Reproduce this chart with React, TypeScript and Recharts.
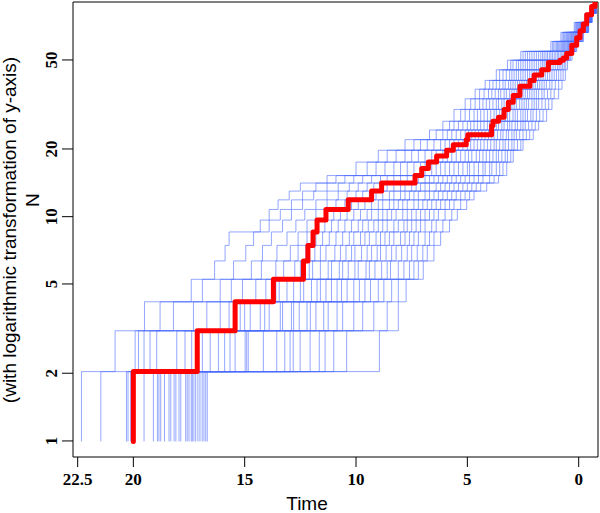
import { LineChart, Line, XAxis, YAxis, ReferenceArea } from "recharts";

// lineage counts at which every simulated tree's reach time is listed below
const lineageLevels = [
  2, 3, 4, 5, 6, 7, 8, 9, 10, 11, 12, 13, 14, 16, 18, 20, 22, 24, 27, 30, 33,
  36, 40, 44, 48, 53, 58, 64, 70, 78,
];

// one row per level, one column per simulated tree (30 trees)
const simReachTimes: number[][] = [
  [21.46, 22.33, 20.31, 20.24, 20.12, 19.52, 18.85, 18.92, 19.1, 18.77, 18.6, 18.4, 17.95, 18.17, 18.09, 18.32, 17.87, 17.65, 17.58, 17.5, 17.1, 17.35, 17.28, 17.2, 17.4, 17.01, 16.68, 16.83, 16.75, 16.91],
  [20.82, 19.92, 19.77, 19.52, 19.25, 18.95, 18.05, 17.68, 17.38, 15.43, 16.55, 16.18, 15.9, 15.66, 16.9, 14.98, 14.91, 14.84, 14.16, 13.56, 13.2, 11.65, 12.82, 12.51, 12.06, 12.96, 11.39, 11.0, 10.42, 8.95],
  [19.5, 18.8, 18.2, 17.3, 16.7, 16.1, 15.7, 15.2, 15.0, 14.75, 14.3, 14.1, 13.9, 13.4, 13.3, 12.9, 12.8, 12.55, 12.2, 12.05, 11.8, 11.45, 11.25, 10.85, 10.6, 10.1, 9.7, 9.2, 8.6, 8.1],
  [17.4, 16.9, 16.1, 15.6, 15.1, 14.5, 14.05, 13.6, 13.45, 13.1, 12.0, 12.5, 12.35, 12.8, 11.75, 11.6, 11.35, 10.1, 10.85, 10.65, 10.4, 11.1, 9.85, 9.6, 9.35, 9.0, 8.75, 8.4, 8.1, 7.75],
  [16.35, 15.5, 14.7, 14.25, 13.6, 13.25, 12.75, 12.5, 12.1, 11.95, 11.6, 11.25, 11.1, 10.75, 10.6, 10.35, 10.05, 9.9, 9.55, 9.4, 9.15, 8.85, 8.6, 8.45, 8.1, 7.85, 7.6, 7.4, 7.2, 6.98],
  [15.88, 14.95, 14.2, 13.55, 12.95, 12.6, 12.25, 11.85, 11.6, 11.35, 10.95, 10.7, 10.45, 10.2, 10.05, 9.75, 9.5, 9.3, 9.05, 8.9, 8.65, 8.4, 8.2, 7.95, 7.7, 7.5, 7.25, 7.0, 6.8, 6.5],
  [15.7, 14.6, 13.8, 13.1, 12.6, 12.2, 11.8, 11.5, 11.2, 10.9, 10.6, 10.3, 10.1, 9.8, 9.6, 9.4, 9.1, 8.9, 8.7, 8.5, 8.3, 8.0, 7.8, 7.6, 7.4, 7.2, 6.9, 6.7, 6.5, 6.2],
  [14.3, 13.9, 13.3, 12.7, 12.2, 11.8, 11.4, 11.1, 10.8, 10.5, 10.2, 9.9, 9.7, 9.45, 9.2, 9.0, 8.8, 8.6, 8.3, 8.1, 7.85, 7.7, 7.5, 7.3, 7.1, 6.9, 6.6, 6.4, 6.1, 5.8],
  [13.9, 13.4, 12.9, 12.3, 11.8, 11.4, 11.0, 10.7, 10.4, 10.1, 9.8, 9.5, 9.3, 9.0, 8.8, 8.6, 8.4, 8.2, 7.9, 7.7, 7.5, 7.3, 7.1, 6.9, 6.7, 6.5, 6.3, 6.0, 5.7, 5.45],
  [13.5, 12.9, 12.4, 11.8, 11.3, 10.9, 10.5, 10.2, 9.9, 9.6, 9.3, 9.0, 8.8, 8.5, 8.3, 8.1, 7.9, 7.7, 7.4, 7.2, 7.0, 6.8, 6.6, 6.4, 6.2, 6.0, 5.8, 5.6, 5.3, 5.03],
  [13.0, 12.4, 11.9, 11.3, 10.8, 10.4, 10.0, 9.7, 9.4, 9.1, 8.8, 8.5, 8.3, 8.0, 7.8, 7.6, 7.4, 7.2, 6.9, 6.7, 6.5, 6.3, 6.1, 5.9, 5.7, 5.5, 5.3, 5.1, 4.9, 4.7],
  [12.5, 11.8, 11.3, 10.8, 10.3, 9.9, 9.5, 9.2, 8.9, 8.6, 8.3, 8.0, 7.8, 7.5, 7.3, 7.1, 6.9, 6.7, 6.4, 6.2, 6.0, 5.8, 5.6, 5.4, 5.2, 5.0, 4.8, 4.6, 4.4, 4.13],
  [11.3, 10.9, 10.5, 10.1, 9.7, 9.3, 8.9, 8.6, 8.3, 8.0, 7.7, 7.4, 7.2, 6.9, 6.7, 6.5, 6.3, 6.1, 5.9, 5.7, 5.5, 5.3, 5.1, 4.9, 4.7, 4.5, 4.3, 4.0, 3.8, 3.6],
  [10.0, 9.5, 9.1, 8.7, 8.3, 8.0, 7.7, 7.4, 7.1, 6.9, 6.6, 6.4, 6.2, 6.0, 5.8, 5.6, 5.4, 5.2, 5.0, 4.9, 4.7, 4.5, 4.3, 4.2, 4.0, 3.9, 3.7, 3.55, 3.4, 3.23],
  [9.0, 8.6, 8.2, 7.8, 7.5, 7.2, 6.9, 6.6, 6.4, 6.1, 5.9, 5.7, 5.5, 5.3, 5.1, 4.95, 4.8, 4.6, 4.45, 4.3, 4.15, 4.0, 3.85, 3.7, 3.6, 3.45, 3.3, 3.2, 3.05, 2.94],
  [7.8, 7.4, 7.1, 6.8, 6.5, 6.2, 6.0, 5.8, 5.6, 5.4, 5.2, 5.0, 4.85, 4.7, 4.55, 4.4, 4.25, 4.1, 3.95, 3.8, 3.7, 3.55, 3.4, 3.3, 3.15, 3.0, 2.9, 2.75, 2.6, 2.5],
  [6.7, 6.4, 6.1, 5.9, 5.7, 5.5, 5.3, 5.1, 4.95, 4.8, 4.65, 4.5, 4.35, 4.2, 4.05, 3.9, 3.8, 3.65, 3.5, 3.4, 3.25, 3.15, 3.0, 2.9, 2.8, 2.65, 2.5, 2.35, 2.2, 2.04],
  [6.1, 5.8, 5.6, 5.4, 5.2, 5.0, 4.85, 4.7, 4.55, 4.4, 4.25, 4.1, 4.0, 3.85, 3.7, 3.6, 3.45, 3.35, 3.2, 3.1, 3.0, 2.85, 2.75, 2.6, 2.5, 2.4, 2.25, 2.1, 1.95, 1.8],
  [5.6, 5.3, 5.1, 4.9, 4.7, 4.55, 4.4, 4.25, 4.1, 3.95, 3.8, 3.7, 3.55, 3.45, 3.3, 3.2, 3.1, 2.95, 2.85, 2.75, 2.6, 2.5, 2.4, 2.3, 2.15, 2.05, 1.9, 1.75, 1.6, 1.44],
  [5.1, 4.85, 4.65, 4.45, 4.3, 4.15, 4.0, 3.85, 3.7, 3.6, 3.45, 3.35, 3.2, 3.1, 3.0, 2.9, 2.8, 2.65, 2.55, 2.45, 2.35, 2.25, 2.1, 2.0, 1.9, 1.8, 1.65, 1.5, 1.35, 1.2],
  [4.65, 4.45, 4.25, 4.05, 3.9, 3.75, 3.6, 3.5, 3.35, 3.25, 3.1, 3.0, 2.9, 2.8, 2.7, 2.6, 2.5, 2.4, 2.3, 2.2, 2.1, 2.0, 1.9, 1.8, 1.65, 1.55, 1.4, 1.25, 1.1, 0.9],
  [4.2, 4.0, 3.85, 3.7, 3.55, 3.4, 3.3, 3.15, 3.05, 2.95, 2.85, 2.75, 2.65, 2.55, 2.45, 2.35, 2.25, 2.15, 2.05, 1.95, 1.85, 1.75, 1.65, 1.55, 1.45, 1.3, 1.2, 1.05, 0.9, 0.75],
  [3.7, 3.55, 3.4, 3.25, 3.1, 3.0, 2.9, 2.8, 2.7, 2.6, 2.5, 2.4, 2.3, 2.2, 2.1, 2.0, 1.9, 1.8, 1.7, 1.6, 1.5, 1.4, 1.3, 1.2, 1.1, 1.0, 0.9, 0.8, 0.7, 0.6],
  [3.2, 3.05, 2.95, 2.8, 2.7, 2.6, 2.5, 2.4, 2.3, 2.2, 2.1, 2.0, 1.9, 1.8, 1.7, 1.62, 1.55, 1.47, 1.4, 1.32, 1.25, 1.15, 1.05, 0.95, 0.88, 0.8, 0.72, 0.65, 0.58, 0.5],
  [2.6, 2.5, 2.4, 2.3, 2.2, 2.1, 2.0, 1.9, 1.8, 1.7, 1.62, 1.55, 1.47, 1.4, 1.32, 1.25, 1.18, 1.1, 1.03, 0.96, 0.9, 0.83, 0.76, 0.7, 0.63, 0.57, 0.5, 0.43, 0.37, 0.3],
  [1.25, 1.18, 1.12, 1.06, 1.0, 0.95, 0.9, 0.85, 0.8, 0.76, 0.72, 0.68, 0.64, 0.6, 0.56, 0.52, 0.49, 0.46, 0.43, 0.4, 0.37, 0.34, 0.31, 0.28, 0.25, 0.22, 0.19, 0.16, 0.12, 0.09],
  [0.8, 0.74, 0.68, 0.63, 0.58, 0.54, 0.5, 0.46, 0.42, 0.38, 0.35, 0.32, 0.29, 0.26, 0.23, 0.2, 0.17, 0.14, 0.11, 0.08, 0.05, 0.02, -0.01, -0.04, -0.07, -0.1, -0.13, -0.16, -0.19, -0.21],
  [0.2, 0.16, 0.12, 0.09, 0.06, 0.03, 0.0, -0.03, -0.06, -0.08, -0.1, -0.12, -0.14, -0.16, -0.18, -0.2, -0.22, -0.24, -0.26, -0.28, -0.3, -0.32, -0.34, -0.36, -0.38, -0.4, -0.41, -0.42, -0.44, -0.45],
  [-0.28, -0.3, -0.32, -0.34, -0.35, -0.37, -0.38, -0.4, -0.41, -0.42, -0.43, -0.44, -0.45, -0.46, -0.47, -0.48, -0.49, -0.5, -0.51, -0.52, -0.53, -0.54, -0.55, -0.56, -0.57, -0.57, -0.58, -0.59, -0.6, -0.6],
  [-0.72, -0.73, -0.74, -0.74, -0.75, -0.75, -0.76, -0.76, -0.77, -0.72, -0.73, -0.75, -0.76, -0.74, -0.77, -0.78, -0.73, -0.75, -0.76, -0.74, -0.77, -0.78, -0.75, -0.76, -0.74, -0.73, -0.77, -0.78, -0.76, -0.75],
];

// observed tree (red)
const obsTimes = [
  20.0, 20.0, 17.13, 15.43, 13.71, 12.36, 12.16, 11.93, 11.75, 11.35, 10.35,
  9.3, 8.85, 7.35, 7.05, 6.75, 6.38, 5.93, 5.63, 5.05, 4.98, 3.91, 3.85, 3.6,
  3.35, 3.16, 2.94, 2.64, 2.19, 2.0, 1.66, 1.36, 0.84, 0.69, 0.54, 0.31, 0.09,
  -0.06, -0.21, -0.36, -0.58, -0.73,
];
const obsCounts = [
  1, 2, 3, 4, 5, 6, 7, 8, 9, 10, 11, 12, 13, 14, 15, 16, 17, 18, 19, 20, 21, 23,
  24, 25, 27, 29, 31, 34, 36, 38, 40, 43, 44, 45, 47, 51, 55, 59, 63, 69, 75,
  79,
];

const timeDomain = [-0.867, 22.71];
const countDomain = [0.857, 78.4];
const timeTicks = [22.5, 20, 15, 10, 5, 0];
// the tick marks in the reference sit a little off the log positions of the counts
const countTickAt = [1.005, 1.968, 4.774, 9.311, 18.23, 44.11];
const countTickLabels = ["1", "2", "5", "10", "20", "50"];

const simSeries = simReachTimes[0].map((_, c) => [
  { t: simReachTimes[0][c], n: 1 },
  ...lineageLevels.map((n, j) => ({ t: simReachTimes[j][c], n })),
]);
const obsSeries = obsTimes.map((t, i) => ({ t, n: obsCounts[i] }));

const serif = "'Liberation Serif', 'Times New Roman', serif";
const sans = "'Liberation Sans', Arial, sans-serif";

function TimeTick({ x, y, payload }: any) {
  return (
    <text x={x} y={y + 16} textAnchor="middle" fontFamily={serif} fontWeight="bold" fontSize={17} fill="#000">
      {payload.value}
    </text>
  );
}

function CountTick({ x, y, payload }: any) {
  const i = countTickAt.indexOf(payload.value);
  const bx = x - 3;
  return (
    <text x={bx} y={y} transform={`rotate(-90, ${bx}, ${y})`} textAnchor="middle" fontFamily={serif} fontWeight="bold" fontSize={17} fill="#000">
      {countTickLabels[i]}
    </text>
  );
}

export default function App() {
  return (
    <div style={{ position: "absolute", left: 0, top: 0, width: 600, height: 513, background: "#fff" }}>
      <LineChart width={600} height={513} margin={{ top: 2, right: 2, bottom: 0, left: 0 }}>
        <XAxis
          type="number"
          dataKey="t"
          domain={timeDomain}
          reversed
          allowDataOverflow
          ticks={timeTicks}
          interval={0}
          height={56}
          axisLine={false}
          tickLine={{ stroke: "#000" }}
          tickSize={10}
          tick={<TimeTick />}
        />
        <YAxis
          type="number"
          dataKey="n"
          scale="log"
          domain={countDomain}
          allowDataOverflow
          ticks={countTickAt}
          interval={0}
          width={73}
          axisLine={false}
          tickLine={{ stroke: "#000" }}
          tickSize={11}
          tick={<CountTick />}
        />
        {simSeries.map((s, i) => (
          <Line
            key={`sim-${i}`}
            data={s}
            dataKey="n"
            type="stepAfter"
            stroke="#4d6dff"
            strokeOpacity={0.6}
            strokeWidth={1}
            dot={false}
            activeDot={false}
            isAnimationActive={false}
          />
        ))}
        <Line
          data={obsSeries}
          dataKey="n"
          type="stepAfter"
          stroke="#ff0000"
          strokeWidth={5}
          strokeLinejoin="round"
          strokeLinecap="round"
          dot={false}
          activeDot={false}
          isAnimationActive={false}
        />
        <ReferenceArea
          x1={timeDomain[0]}
          x2={timeDomain[1]}
          y1={countDomain[0]}
          y2={countDomain[1]}
          ifOverflow="visible"
          fill="none"
          stroke="#000"
          strokeWidth={1}
        />
      </LineChart>
      <svg width={600} height={513} style={{ position: "absolute", left: 0, top: 0, pointerEvents: "none" }}>
        <text x={39} y={200} transform="rotate(-90, 39, 200)" textAnchor="middle" fontFamily={sans} fontSize={19} fill="#000">
          N
        </text>
        <text x={16} y={230} transform="rotate(-90, 16, 230)" textAnchor="middle" fontFamily={sans} fontSize={19} fill="#000">
          (with logarithmic transformation of y-axis)
        </text>
        <text x={307} y={510} textAnchor="middle" fontFamily={sans} fontSize={19} fill="#000">
          Time
        </text>
      </svg>
    </div>
  );
}
